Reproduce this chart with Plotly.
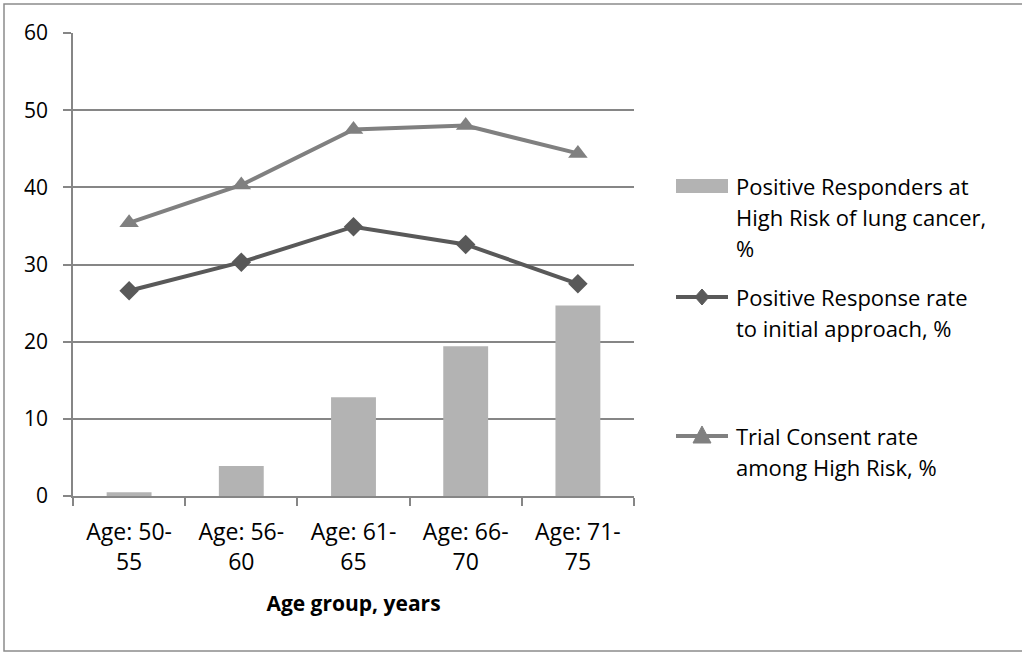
import plotly.graph_objects as go

# Age groups and the three series (percent)
age_groups = ["Age: 50-<br>55", "Age: 56-<br>60", "Age: 61-<br>65", "Age: 66-<br>70", "Age: 71-<br>75"]
high_risk_responders = [0.5, 3.9, 12.8, 19.4, 24.7]
positive_response_rate = [26.6, 30.3, 34.9, 32.6, 27.5]
trial_consent_rate = [35.4, 40.3, 47.5, 48.0, 44.4]

legend_labels = [
    ["Positive Responders at", "High Risk of lung cancer,", "%"],
    ["Positive Response rate", "to initial approach, %"],
    ["Trial Consent rate", "among High Risk, %"],
]

W, H = 1022, 652
L, R, T, B = 73, 388, 33, 156
PW, PH = W - L - R, H - T - B

BAR_C = "#b3b3b3"
DARK_C = "#595959"
MID_C = "#808080"
GRID_C = "#868686"
FONT = "Open Sans"


def px(xp):
    return (xp - L) / PW


def py(yp):
    return (H - B - yp) / PH


fig = go.Figure()
fig.add_trace(go.Bar(x=age_groups, y=high_risk_responders, width=0.4,
                     marker=dict(color=BAR_C, line=dict(width=0)),
                     name="Positive Responders at High Risk of lung cancer, %",
                     showlegend=False))
fig.add_trace(go.Scatter(x=age_groups, y=positive_response_rate, mode="lines+markers",
                         line=dict(color=DARK_C, width=4),
                         marker=dict(symbol="diamond", size=15, color=DARK_C),
                         name="Positive Response rate to initial approach, %",
                         showlegend=False))
fig.add_trace(go.Scatter(x=age_groups, y=trial_consent_rate, mode="lines+markers",
                         line=dict(color=MID_C, width=4),
                         marker=dict(symbol="triangle-up", size=17, color=MID_C),
                         name="Trial Consent rate among High Risk, %",
                         showlegend=False))

shapes = []
annotations = []

# outer chart border
shapes.append(dict(type="rect", xref="paper", yref="paper",
                   x0=px(4), x1=px(1030), y0=py(651), y1=py(4),
                   line=dict(color="#8c8c8c", width=1.5), layer="below"))

# legend entries drawn at fixed positions
sx0, sx1, tx = 676, 728, 734
line_h = 31
entry_tops = [186, 297, 436]
# bar swatch
shapes.append(dict(type="rect", xref="paper", yref="paper",
                   x0=px(sx0), x1=px(sx1), y0=py(entry_tops[0] + 7), y1=py(entry_tops[0] - 7),
                   fillcolor=BAR_C, line=dict(width=0)))
# line swatches with markers
for yc, col, kind in [(entry_tops[1], DARK_C, "diamond"), (entry_tops[2], MID_C, "triangle")]:
    shapes.append(dict(type="line", xref="paper", yref="paper",
                       x0=px(sx0), x1=px(sx1), y0=py(yc), y1=py(yc),
                       line=dict(color=col, width=4)))
    cx = (sx0 + sx1) / 2
    if kind == "diamond":
        pts = [(cx - 7, yc), (cx, yc - 8), (cx + 7, yc), (cx, yc + 8)]
    else:
        pts = [(cx - 9, yc + 7), (cx, yc - 10), (cx + 9, yc + 7)]
    path = "M " + " L ".join(f"{px(a):.5f},{py(b):.5f}" for a, b in pts) + " Z"
    shapes.append(dict(type="path", xref="paper", yref="paper", path=path,
                       fillcolor=col, line=dict(color=col, width=1)))

for top, lines in zip(entry_tops, legend_labels):
    for i, txt in enumerate(lines):
        annotations.append(dict(text=txt, xref="paper", yref="paper",
                                x=px(tx), y=py(top + i * line_h),
                                xanchor="left", yanchor="middle", showarrow=False,
                                font=dict(family=FONT, size=22, color="#000000")))

fig.update_layout(
    width=W, height=H,
    margin=dict(l=L, r=R, t=T, b=B),
    paper_bgcolor="white", plot_bgcolor="white",
    font=dict(family=FONT, size=21, color="#000000"),
    showlegend=False,
    shapes=shapes,
    annotations=annotations,
    xaxis=dict(type="category", showgrid=False, showline=True, linecolor=GRID_C, linewidth=1.5,
               ticks="outside", tickson="boundaries", ticklen=8, tickcolor=GRID_C,
               tickwidth=1.5, ticklabelstandoff=15, tickfont=dict(family=FONT, size=23),
               title=dict(text="<b>Age group, years</b>", font=dict(family=FONT, size=21),
                          standoff=20)),
    yaxis=dict(range=[0, 60], dtick=10, showgrid=True, gridcolor=GRID_C, gridwidth=1.5,
               showline=True, linecolor=GRID_C, linewidth=1.5, zeroline=False,
               ticks="outside", ticklen=8, tickcolor=GRID_C, tickwidth=1.5,
               ticklabelstandoff=11, tickfont=dict(family=FONT, size=21)),
)

fig.write_html("out.html")
